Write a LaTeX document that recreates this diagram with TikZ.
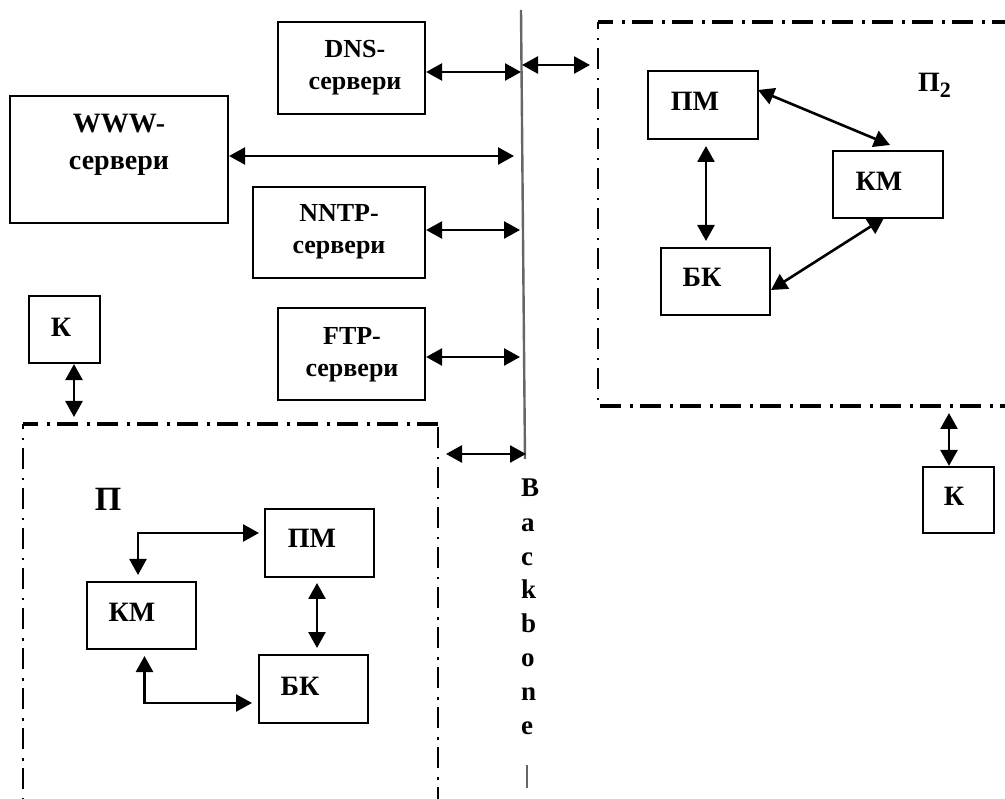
\documentclass[tikz,border=0pt]{standalone}
\usepackage{fontspec}
\setmainfont{Liberation Serif}
\usetikzlibrary{arrows.meta,calc}
\tikzset{
 bx/.style={draw,line width=2.2pt,inner sep=0pt},
 conn/.style={line width=2.6pt,{Triangle[length=16pt,width=17pt]}-{Triangle[length=16pt,width=17pt]}},
 frame/.style={line width=3.1pt,dash pattern=on 21pt off 9pt on 2.5pt off 7.5pt},
 framethin/.style={frame,line width=2.3pt},
 srv/.style={font=\fontsize{26}{32}\selectfont\bfseries,inner sep=0pt,anchor=base,align=center},
 srvb/.style={font=\fontsize{28}{37}\selectfont\bfseries,inner sep=0pt,anchor=base,align=center},
 mod/.style={font=\fontsize{28}{32}\selectfont\bfseries,inner sep=0pt,anchor=base},
 ltr/.style={font=\fontsize{27}{30}\selectfont\bfseries,inner sep=0pt,anchor=base west}
}
\newcommand{\boxat}[5]{\node[bx,minimum width=#3pt-#2pt,minimum height=#5pt-#4pt] (#1) at ({(#2+#3)/2},{(#4+#5)/2}) {};}
\begin{document}
\begin{tikzpicture}[x=1pt,y=-1pt]
\path[use as bounding box,fill=white] (0,0) rectangle (1005,799);
% spine
\coordinate (st) at (521,10); \coordinate (sb) at (525,459);
\draw[line width=2.4pt,black!60] (st) -- (sb);
\coordinate (bt) at (527,765); \coordinate (bb) at (527,788);
\draw[line width=2.4pt,black!60] (bt) -- (bb);
% frames
\coordinate (p1a) at (23,799); \coordinate (p1b) at (23,424); \coordinate (p1c) at (438,424); \coordinate (p1d) at (438,799);
\coordinate (p1e) at (438,427);
\draw[frame,dash phase=6pt] (p1b) -- (p1c);
\draw[framethin] (p1e) -- (p1d);
\draw[framethin,dash phase=16pt] (p1b) -- (p1a);
\coordinate (p2a) at (598,406); \coordinate (p2b) at (598,22); \coordinate (p2c) at (1005,22); \coordinate (p2d) at (1005,406);
\draw[frame,dash phase=6pt] (p2b) -- (p2c);
\draw[frame,dash phase=38pt] (p2a) -- (p2d);
\draw[frame,line width=2.7pt,dash phase=14pt] (p2b) -- (p2a);
% servers
\boxat{dns}{278}{425}{22}{114}
\boxat{www}{10}{228}{96}{223}
\boxat{nntp}{253}{425}{187}{278}
\boxat{ftp}{278}{425}{308}{400}
\boxat{k1}{29}{100}{296}{363}
\boxat{k2}{923}{994}{467}{533}
\node[srv] (tdns) at (355,90) {DNS-\\сервери};
\node[srvb] (twww) at (119,170) {WWW-\\сервери};
\node[srv] (tnntp) at (339,254) {NNTP-\\сервери};
\node[srv] (tftp) at (352,377) {FTP-\\сервери};
\node[mod] (tk1) at (61,337) {К};
\node[mod] (tk2) at (954,506) {К};
% P
\boxat{pm1}{265}{374}{509}{577}
\boxat{km1}{87}{196}{582}{649}
\boxat{bk1}{259}{368}{655}{723}
\node[mod] (tpm1) at (312,548) {ПМ};
\node[mod] (tkm1) at (132,621) {КМ};
\node[mod] (tbk1) at (300,695) {БК};
% P2
\boxat{pm2}{648}{758}{71}{139}
\boxat{km2}{833}{943}{151}{218}
\boxat{bk2}{661}{770}{248}{315}
\node[mod] (tpm2) at (695,111) {ПМ};
\node[mod] (tkm2) at (879,191) {КМ};
\node[mod] (tbk2) at (702,287) {БК};
\node[mod,font=\fontsize{34}{38}\selectfont\bfseries] (p1) at (108,511) {П};
\node[mod,anchor=base west] (p2) at (918,92) {П\raisebox{-6pt}{\fontsize{22}{24}\selectfont 2}};
% arrows
\coordinate (e1) at (521,72); \coordinate (e2) at (514,156); \coordinate (e3) at (520,230); \coordinate (e4) at (520,357);
\coordinate (e5) at (522,65); \coordinate (e6) at (590,65);
\coordinate (e7) at (446,454); \coordinate (e8) at (526,454);
\coordinate (e9) at (74,417); \coordinate (e10) at (949,413);
\draw[conn] (dns.east|-e1) -- (e1);
\draw[conn] (www.east|-e2) -- (e2);
\draw[conn] (nntp.east|-e3) -- (e3);
\draw[conn] (ftp.east|-e4) -- (e4);
\draw[conn] (e5) -- (e6);
\draw[conn] (e7) -- (e8);
\draw[conn] (k1.south-|e9) -- (e9);
\draw[conn] (k2.north-|e10) -- (e10);
\coordinate (a1) at (259,533); \coordinate (a2) at (138,575);
\draw[conn] (a1) -- (a1-|a2) -- (a2);
\coordinate (a3) at (144.5,656); \coordinate (a4) at (252,703);
\draw[conn] (a3) -- (a3|-a4) -- (a4);
\coordinate (a5) at (317,583); \coordinate (a6) at (317,648);
\draw[conn] (a5) -- (a6);
\coordinate (b1) at (758,90); \coordinate (b2) at (890,145);
\draw[conn] (b1) -- (b2);
\coordinate (b3) at (706,146); \coordinate (b4) at (706,241);
\draw[conn] (b3) -- (b4);
\coordinate (b5) at (884,218); \coordinate (b6) at (771,290);
\draw[conn] (b5) -- (b6);
% Backbone letters
\foreach \c/\y in {B/497,a/532,c/566,k/598,b/632,o/666,n/700,e/734}{
 \node[ltr] (L\c) at (521,\y) {\c};}
\end{tikzpicture}
\end{document}
